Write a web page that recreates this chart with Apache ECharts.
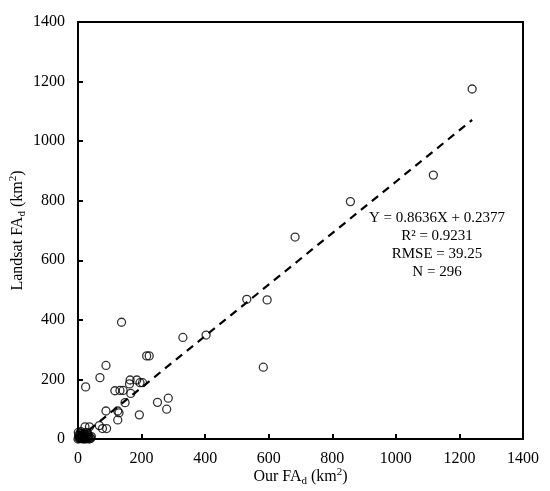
<!DOCTYPE html>
<html>
<head>
<meta charset="utf-8">
<script src="https://cdn.jsdelivr.net/npm/echarts@6/dist/echarts.min.js"></script>
<style>
  html, body { margin: 0; padding: 0; background: #fff; }
  #chart { width: 550px; height: 491px; }
</style>
</head>
<body>
<div id="chart"></div>
<script>
// 散点数据：Our FA_d (x) 与 Landsat FA_d (y)，单位 km²
var ourFA = [1240, 1118, 857, 683, 531, 595, 583, 403, 330, 284, 279, 250, 216, 224, 137, 88, 69, 24,
  164, 185, 195, 203, 162, 116, 132, 142, 166, 148, 125, 88, 129, 125, 193, 67, 77, 90, 22, 36,
  0, 3, 5, 8, 10, 12, 15, 18, 20, 22, 25, 28, 30, 33, 35, 38, 6, 14, 2, 9, 26, 16, 40, 4, 11, 19, 31, 24, 7, 13, 42, 1];
var landsatFA = [1175, 886, 797, 678, 469, 467, 241, 349, 341, 137, 100, 123, 279, 279, 392, 247, 206, 175,
  198, 198, 189, 189, 185, 162, 163, 163, 153, 122, 94, 94, 88, 64, 81, 45, 35, 35, 41, 41,
  0, 2, 8, 4, 12, 3, 6, 10, 2, 15, 5, 8, 3, 12, 0, 5, 18, 20, 12, 25, 22, 0, 2, 5, 8, 17, 18, 0, 1, 14, 8, 22];

// 拟合线：Y = 0.8636X + 0.2377
var fitSlope = 0.8636;
var fitIntercept = 0.2377;
var fitX = [0, 1240];

var statLines = ['Y = 0.8636X + 0.2377', 'R\u00b2 = 0.9231', 'RMSE = 39.25', 'N = 296'];
var axisTicks = [0, 200, 400, 600, 800, 1000, 1200, 1400];

var points = ourFA.map(function (x, i) { return [x, landsatFA[i]]; });
var fitLine = fitX.map(function (x) { return [x, fitSlope * x + fitIntercept]; });

var serif = '"Liberation Serif", "Times New Roman", serif';
var richName = {
  n: { fontFamily: serif, fontSize: 16, color: '#000', lineHeight: 20 },
  sub: { fontFamily: serif, fontSize: 11, color: '#000', lineHeight: 11, verticalAlign: 'bottom' },
  sup: { fontFamily: serif, fontSize: 11, color: '#000', lineHeight: 11, verticalAlign: 'top' }
};

function valueAxis(name, gap) {
  return {
    type: 'value',
    min: axisTicks[0],
    max: axisTicks[axisTicks.length - 1],
    interval: 200,
    name: name,
    nameLocation: 'middle',
    nameGap: gap,
    nameMoveOverlap: false,
    nameTextStyle: { rich: richName },
    axisLine: { show: true, lineStyle: { color: '#000', width: 2 } },
    axisTick: { show: true, inside: true, length: 5, lineStyle: { color: '#000', width: 2 } },
    axisLabel: {
      color: '#000', fontFamily: serif, fontSize: 16, margin: 12,
      formatter: function (v) { return String(v); }
    },
    splitLine: { show: false }
  };
}

var myChart = echarts.init(document.getElementById('chart'));

var xAx = valueAxis('{n|Our FA}{sub|d}{n| (km}{sup|2}{n|)}', 28);
var yAx = valueAxis('{n|Landsat FA}{sub|d}{n| (km}{sup|2}{n|)}', 50);
yAx.axisLabel.margin = 13;

var option = {
  animation: false,
  backgroundColor: '#fff',
  grid: {
    left: 78, right: 27, top: 22, bottom: 52,
    outerBoundsMode: 'none',
    containLabel: false,
    show: true, borderColor: '#000', borderWidth: 2, backgroundColor: 'transparent'
  },
  xAxis: xAx,
  yAxis: yAx,
  series: [
    {
      name: 'points',
      type: 'scatter',
      data: points,
      symbol: 'circle',
      symbolSize: 8,
      itemStyle: { color: 'rgba(255,255,255,0)', borderColor: '#000', borderWidth: 1.3 },
      z: 3
    },
    {
      name: 'fit',
      type: 'line',
      data: fitLine,
      symbol: 'none',
      lineStyle: { color: '#000', width: 2.2, type: [8, 6] },
      z: 4
    }
  ],
  // 统计信息文字
  graphic: statLines.map(function (t, i) {
    return {
      type: 'text',
      x: 437, y: 218 + i * 18,
      style: {
        text: t,
        align: 'center', verticalAlign: 'middle',
        fontFamily: serif, fontSize: 15, fill: '#000'
      }
    };
  })
};

myChart.setOption(option);
</script>
</body>
</html>
